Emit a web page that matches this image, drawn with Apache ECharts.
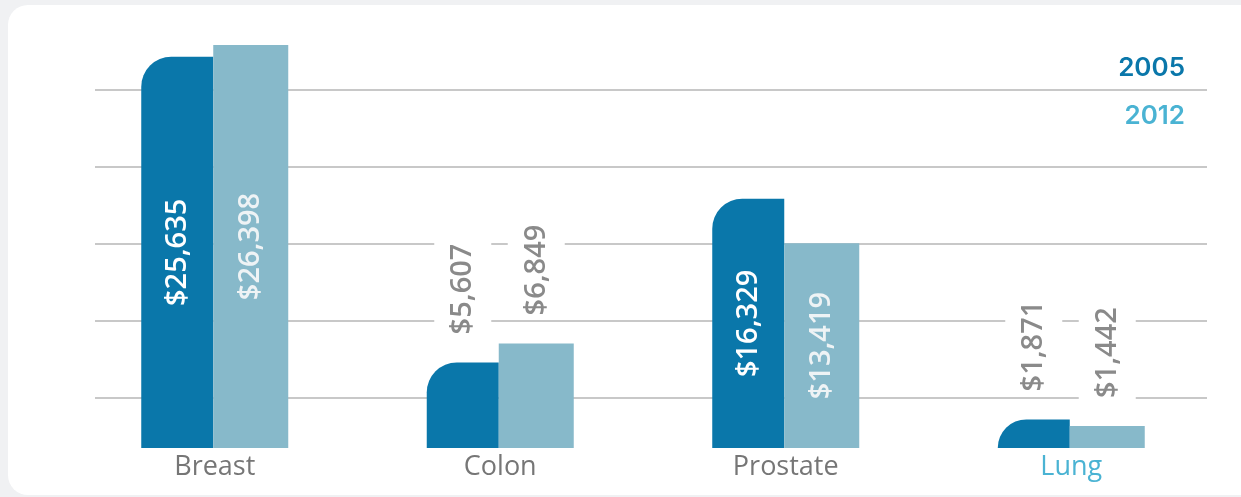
<!DOCTYPE html>
<html>
<head>
<meta charset="utf-8">
<script src="https://cdn.jsdelivr.net/npm/echarts@6/dist/echarts.min.js"></script>
<style>
  html, body { margin: 0; padding: 0; background: #f0f1f3; }
  #chart { width: 1241px; height: 497px; }
</style>
</head>
<body>
<div id="chart"></div>
<script>
const categories = ['Breast', 'Colon', 'Prostate', 'Lung'];
const highlightCategory = 'Lung';
const seriesNames = ['2005', '2012'];
const values2005 = [25635, 5607, 16329, 1871];
const values2012 = [26398, 6849, 13419, 1442];
const insideThreshold = 10000;

const C2005 = '#0a77aa';
const C2012 = '#87b9ca';
const LEG2012 = '#4ab3d3';
const GRAY = '#767676';
const FONT = '"Open Sans", "Noto Sans", sans-serif';

function fmt(v) { return '$' + v.toLocaleString('en-US'); }

function makeData(values, insideColor) {
  return values.map(v => v >= insideThreshold
    ? { value: v, label: { position: 'inside', align: 'center', verticalAlign: 'middle', color: insideColor } }
    : { value: v, label: { position: 'top', distance: 24, align: 'left', verticalAlign: 'middle',
        color: '#8a8a8a', backgroundColor: '#ffffff', padding: [14, 6, 14, 4] } });
}

const labelBase = { show: true, rotate: 90, fontFamily: FONT, fontSize: 29, fontWeight: 600, formatter: p => fmt(p.value) };

const chart = echarts.init(document.getElementById('chart'));
chart.setOption({
  backgroundColor: 'transparent',
  animation: false,
  graphic: [{
    type: 'rect', z: -100, silent: true,
    shape: { x: 8, y: 5, width: 1270, height: 490, r: 20 },
    style: { fill: '#ffffff' }
  }],
  legend: [
    { data: [{ name: seriesNames[0], textStyle: { color: C2005 } }], right: 56, top: 55, padding: 0,
      icon: 'none', itemWidth: 0, itemHeight: 0, selectedMode: false,
      textStyle: { fontFamily: 'Inter, sans-serif', fontSize: 26, fontWeight: 600 } },
    { data: [{ name: seriesNames[1], textStyle: { color: LEG2012 } }], right: 56, top: 103, padding: 0,
      icon: 'none', itemWidth: 0, itemHeight: 0, selectedMode: false,
      textStyle: { fontFamily: 'Inter, sans-serif', fontSize: 26, fontWeight: 600 } }
  ],
  grid: [
    { left: 72, right: 27, top: 45, bottom: 49 },
    { left: 95, right: 34, top: 90, height: 308 }
  ],
  xAxis: [
    { type: 'category', gridIndex: 0,
      data: categories.map(c => c === highlightCategory ? { value: c, textStyle: { color: LEG2012 } } : c),
      axisLine: { show: false }, axisTick: { show: false },
      axisLabel: { color: GRAY, fontFamily: FONT, fontSize: 27, margin: 6 } },
    { type: 'value', gridIndex: 1, show: false, min: 0, max: 1 }
  ],
  yAxis: [
    { type: 'value', gridIndex: 0, min: 0, max: 26400, show: false, splitLine: { show: false } },
    { type: 'value', gridIndex: 1, min: 0, max: 4, interval: 1, z: 0,
      axisLine: { show: false }, axisTick: { show: false }, axisLabel: { show: false },
      splitLine: { show: true, lineStyle: { color: '#c8c8c8', width: 2 } } }
  ],
  series: [
    { name: seriesNames[0], type: 'bar', barWidth: 72, barGap: '0%', z: 3,
      itemStyle: { color: C2005, borderRadius: [30, 0, 0, 0] },
      label: labelBase, data: makeData(values2005, '#ffffff') },
    { name: seriesNames[1], type: 'bar', barWidth: 75, barGap: '0%', z: 3,
      itemStyle: { color: C2012 },
      label: labelBase, data: makeData(values2012, '#eef3f5') }
  ]
});
</script>
</body>
</html>
